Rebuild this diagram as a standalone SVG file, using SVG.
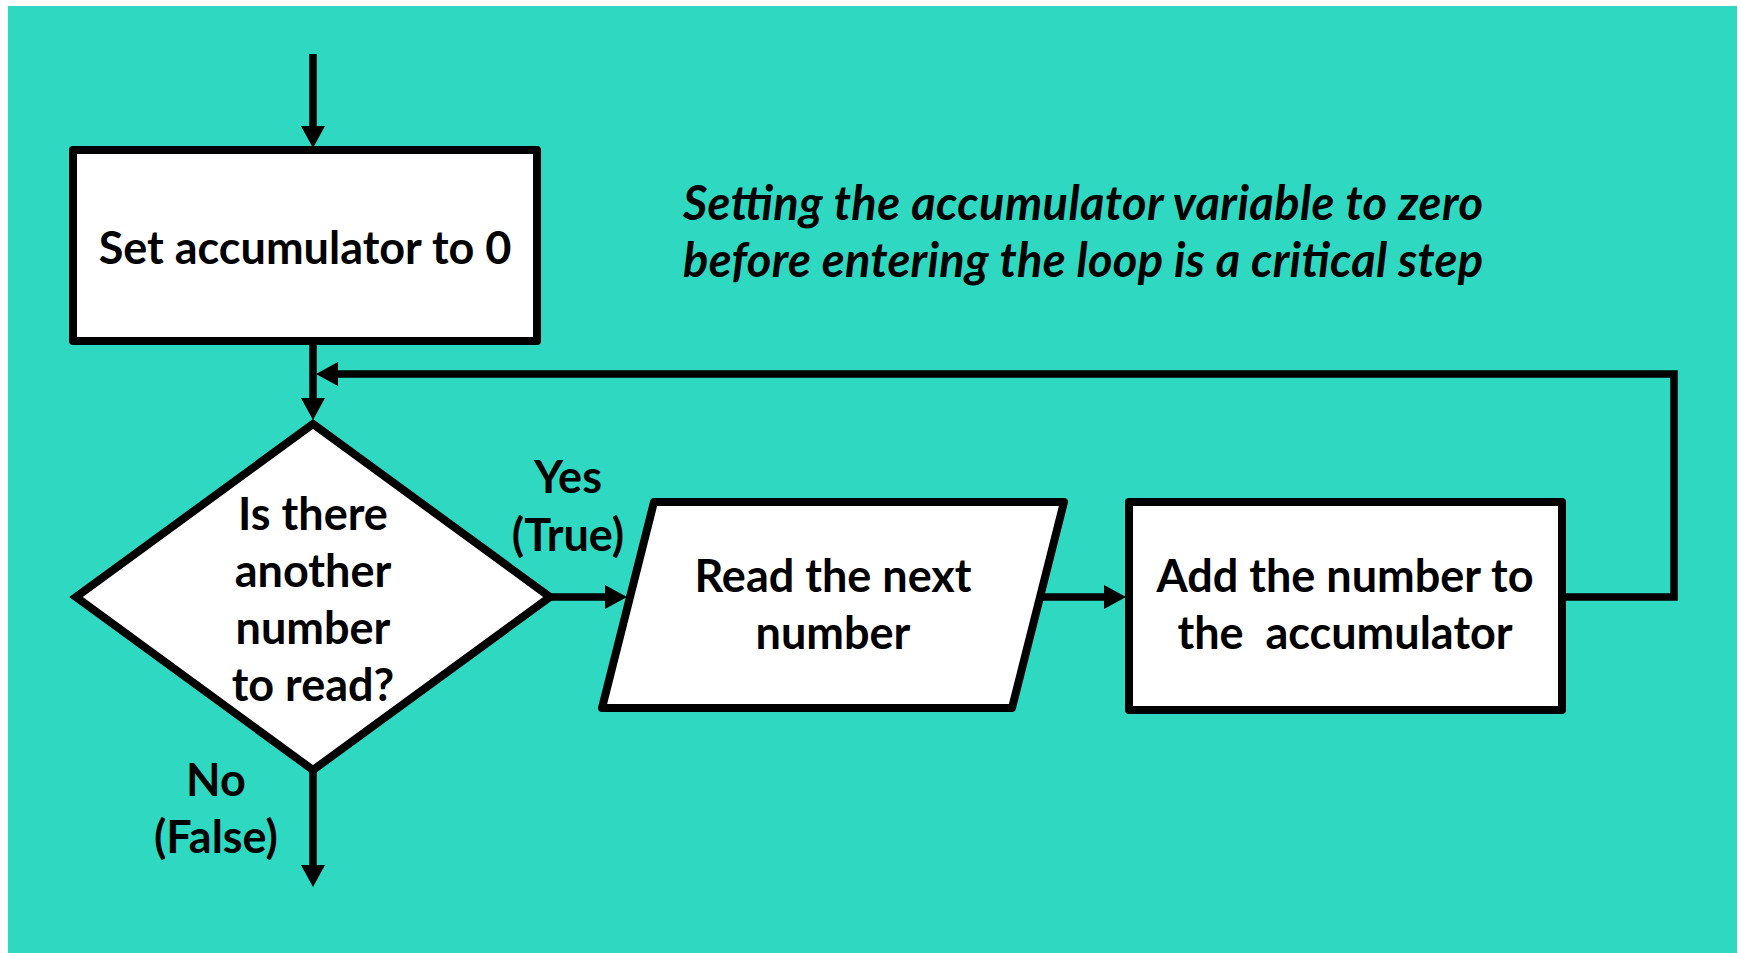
<svg xmlns="http://www.w3.org/2000/svg" width="1741" height="953" viewBox="0 0 1741 953">
  <defs>
    <style>
      .shape { fill: #ffffff; stroke: #000000; stroke-width: 8; stroke-linejoin: round; }
      .diamond { fill: #ffffff; stroke: #000000; stroke-width: 8; stroke-linejoin: miter; stroke-miterlimit: 10; }
      .wire { fill: none; stroke: #000000; stroke-width: 7.5; stroke-linejoin: miter; }
      .label { font-family: Lato, "Liberation Sans", sans-serif; font-weight: bold; font-size: 45px; fill: #000000; text-anchor: middle; }
      .note { font-family: Lato, "Liberation Sans", sans-serif; font-weight: bold; font-style: italic; font-size: 47px; fill: #000000; }
    </style>
    <marker id="arrow" markerUnits="userSpaceOnUse" markerWidth="22" markerHeight="24" viewBox="0 0 22 24" refX="0" refY="12" orient="auto">
      <path d="M0,0 L22,12 L0,24 Z" fill="#000000"/>
    </marker>
  </defs>

  <!-- page background -->
  <rect x="0" y="0" width="1741" height="953" fill="#ffffff"/>
  <rect x="8" y="6" width="1729" height="947" fill="#2FD9C1"/>

  <!-- connectors -->
  <g id="connectors">
    <path class="wire" d="M313,54 V126" marker-end="url(#arrow)"/>
    <path class="wire" d="M313,345 V398" marker-end="url(#arrow)"/>
    <path class="wire" d="M1566,597 H1674 V374 H338" marker-end="url(#arrow)"/>
    <path class="wire" d="M550,597 H605" marker-end="url(#arrow)"/>
    <path class="wire" d="M1033,597 H1104" marker-end="url(#arrow)"/>
    <path class="wire" d="M313,770 V865" marker-end="url(#arrow)"/>
  </g>

  <!-- initialise step -->
  <g id="node-init">
    <rect class="shape" x="73" y="150" width="464" height="191"/>
    <text class="label" x="305" y="264">Set accumulator to 0</text>
  </g>

  <!-- loop condition -->
  <g id="node-decision">
    <polygon class="diamond" points="313,424 550,597 313,770 76,597"/>
    <text class="label" x="313" y="530">Is there</text>
    <text class="label" x="313" y="587">another</text>
    <text class="label" x="313" y="644">number</text>
    <text class="label" x="313" y="701">to read?</text>
  </g>

  <!-- input step -->
  <g id="node-read">
    <polygon class="shape" points="654,502 1064,502 1012,708 602,708"/>
    <text class="label" x="833" y="592">Read the next</text>
    <text class="label" x="833" y="649">number</text>
  </g>

  <!-- accumulate step -->
  <g id="node-add">
    <rect class="shape" x="1129" y="502" width="433" height="208"/>
    <text class="label" x="1345" y="592" xml:space="preserve">Add the number to</text>
    <text class="label" x="1345" y="649" xml:space="preserve">the  accumulator</text>
  </g>

  <!-- branch labels -->
  <g id="label-yes">
    <text class="label" x="568" y="493">Yes</text>
    <text class="label" x="568" y="551">(True)</text>
  </g>
  <g id="label-no">
    <text class="label" x="216" y="796">No</text>
    <text class="label" x="216" y="853">(False)</text>
  </g>

  <!-- annotation -->
  <g id="note">
    <text class="note" x="683" y="220" textLength="800" lengthAdjust="spacing">Setting the accumulator variable to zero</text>
    <text class="note" x="683" y="277" textLength="800" lengthAdjust="spacing">before entering the loop is a critical step</text>
  </g>
</svg>
